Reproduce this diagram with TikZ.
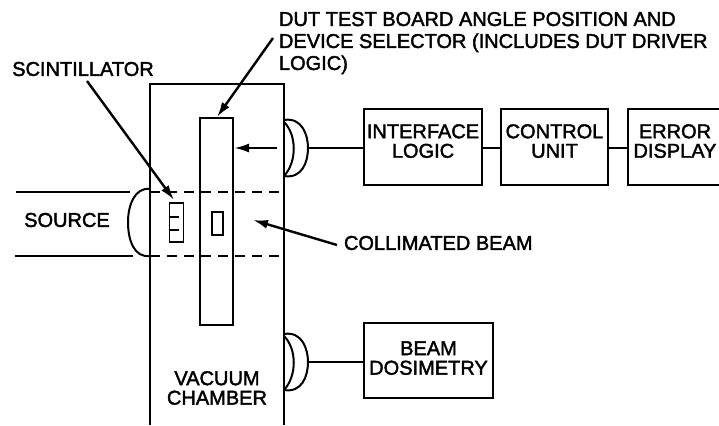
\documentclass[tikz,border=0pt]{standalone}
\usepackage{fontspec}
\setmainfont[FakeBold=2]{Liberation Sans}
\usetikzlibrary{arrows.meta}
\begin{document}
\begin{tikzpicture}[x=1pt, y=-1pt, line width=2pt,
  every node/.style={font=\fontsize{20}{19.5}\selectfont, align=center, inner sep=0pt},
  unitbox/.style={draw, minimum height=76pt, text depth=12pt},
  pointer/.style={-{Latex[length=15pt,width=9pt]}, line width=2.4pt}]
\useasboundingbox (0,0) rectangle (719,425);
% labels
\node[anchor=north west, align=left, font=\fontsize{20}{22}\selectfont] (dutlabel) at (278,11) {DUT TEST BOARD ANGLE POSITION AND\\DEVICE SELECTOR (INCLUDES DUT DRIVER\\LOGIC)};
\node (scintlabel) at (83,69) {SCINTILLATOR};
\node (sourcelabel) at (67,220) {SOURCE};
\node[anchor=west] (beamlabel) at (343,243) {COLLIMATED BEAM};
\node (chamberlabel) at (217,388) {VACUUM\\CHAMBER};
% chamber and board
\draw (150,425) -- (150,84) -- (284,84) -- (284,425);
\node[draw, minimum width=33pt, minimum height=207pt] (board) at (216.5,221.5) {};
\node[draw, line width=1.6pt, minimum width=11pt, minimum height=23pt] (dut) at (217.5,223.5) {};
\node[draw, line width=1.6pt, minimum width=14pt, minimum height=39pt] (scint) at (176.5,222.5) {};
\draw (scint.west |- 0,217) -- (179,217);
\draw (scint.west |- 0,230) -- (179,230);
% beam
\draw (16,192) -- (130,192);
\draw (15,256) -- (133,256);
\draw[dashed, dash pattern=on 10pt off 7pt] (150,192) -- (284,192);
\draw[dashed, dash pattern=on 10pt off 7pt] (150,256) -- (284,256);
\draw (150,189) .. controls (135,187) and (128,205) .. (128,222) .. controls (128,240) and (134,258) .. (150,256);
% feedthroughs
\coordinate (porta) at (308,148);
\coordinate (portb) at (308,362);
\draw (284,120) .. controls (302,117) and (308,135) .. (porta) .. controls (308,162) and (302,179) .. (284,176);
\draw (284,122) .. controls (297,135) and (297,162) .. (284,176);
\draw (284,334) .. controls (302,331) and (308,349) .. (portb) .. controls (308,376) and (302,393) .. (284,390);
\draw (284,336) .. controls (297,349) and (297,376) .. (284,390);
% units
\node[unitbox, minimum width=118pt] (iface) at (423,147) {INTERFACE\\LOGIC};
\node[unitbox, minimum width=107pt] (control) at (554.5,147) {CONTROL\\UNIT};
\node[unitbox, minimum width=94pt] (errorbox) at (675,147) {ERROR\\DISPLAY};
\node[draw, minimum width=129pt, minimum height=75pt, text depth=5pt] (dosimetry) at (428.5,360.5) {BEAM\\DOSIMETRY};
\draw (porta) -- (porta -| iface.west);
\draw (porta -| iface.east) -- (porta -| control.west);
\draw (porta -| control.east) -- (porta -| errorbox.west);
\draw (portb) -- (portb -| dosimetry.west);
% arrows
\coordinate (armstart) at (277,148);
\coordinate (scintstart) at (87,81);
\coordinate (dutstart) at (273,38);
\coordinate (beamstart) at (337,245);
\coordinate (beamtip) at (253,220);
\draw[pointer] (armstart) -- (board.east |- armstart);
\draw[pointer] (scintstart) -- (174,200);
\draw[pointer] (dutstart) -- (217,117);
\draw[pointer] (beamstart) -- (beamtip);
\end{tikzpicture}
\end{document}
